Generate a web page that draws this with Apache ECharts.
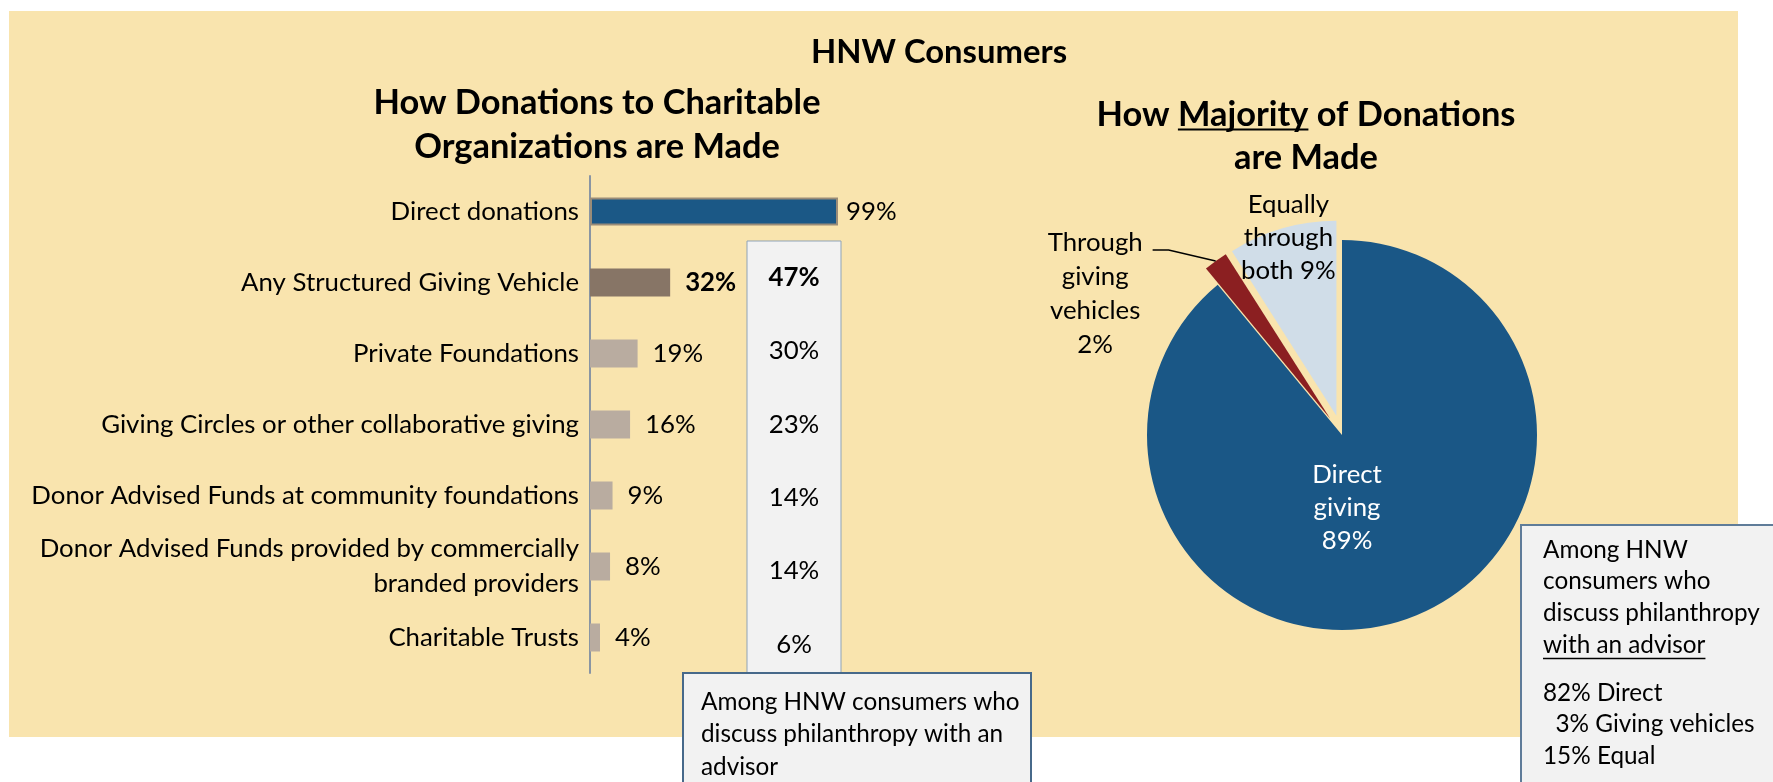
<!DOCTYPE html>
<html>
<head>
<meta charset="utf-8">
<title>HNW Consumers</title>
<script src="https://cdn.jsdelivr.net/npm/echarts@6/dist/echarts.min.js"></script>
<style>
html, body { margin: 0; padding: 0; background: #fff; }
#chart { width: 1773px; height: 782px; }
</style>
</head>
<body>
<div id="chart"></div>
<script>
// ---- data ----
const categories = [
  'Direct donations',
  'Any Structured Giving Vehicle',
  'Private Foundations',
  'Giving Circles or other collaborative giving',
  'Donor Advised Funds at community foundations',
  'Donor Advised Funds provided by commercially\nbranded providers',
  'Charitable Trusts'
];
const allHnw = [99, 32, 19, 16, 9, 8, 4];
const withAdvisor = [null, 47, 30, 23, 14, 14, 6]; // no advisor figure for direct donations
const summaryRow = 1; // "any vehicle" row is shown bold

const pieNames = ['Direct\ngiving', 'Through\ngiving\nvehicles', 'Equally\nthrough\nboth'];
const pieValues = [89, 2, 9];

const advisorPieNames = ['Direct', 'Giving vehicles', 'Equal'];
const advisorPieValues = [82, 3, 15];

// ---- fonts: Calibri is not installed, so size Lato to the reference text widths ----
const FONT = 'Lato';
const ctx = document.createElement('canvas').getContext('2d');
function measure(text, size, weight) {
  ctx.font = (weight || 'normal') + ' ' + size + 'px ' + FONT;
  return ctx.measureText(text).width;
}
function fit(text, width, weight) {
  return Math.round(1000 * width / measure(text, 100, weight)) / 10;
}
const fsLabel = fit('Giving Circles or other collaborative giving', 477);
const fsNote = fit('Among HNW consumers who', 318);
const fsTitle = fit('How Donations to Charitable', 447, 'bold');
const fsHead = fit('HNW Consumers', 256, 'bold');

// ---- pie geometry ----
const cx = 1342, cy = 435, pieR = 195, explode = 20;
const pieColors = ['#1A5786', '#8B1F21', '#D0DDE8'];
const pieTotal = pieValues.reduce((a, b) => a + b, 0);

// outer edge midpoint of a slice (exploded slices included)
function sliceEdge(idx) {
  let before = 0;
  for (let i = 0; i < idx; i++) before += pieValues[i];
  const a = (before + pieValues[idx] / 2) / pieTotal * Math.PI * 2;
  const rr = pieR + (idx > 0 ? explode : 0);
  return [cx + rr * Math.sin(a), cy - rr * Math.cos(a)];
}
const leadA = sliceEdge(1);
const leadB = [leadA[0] - 47, leadA[1] - 11];
const leadC = [leadB[0] - 16, leadB[1]];

const barColors = allHnw.map((v, i) => i === 0 ? '#1B5886' : i === summaryRow ? '#877566' : '#B9ACA0');

// underline positions
const titleLine = 'How Majority of Donations';
const titleCx = 1306;
const ulStart = titleCx - measure(titleLine, fsTitle, 'bold') / 2 + measure('How ', fsTitle, 'bold');
const ulEnd = ulStart + measure('Majority', fsTitle, 'bold');
const noteX = 1543;
const noteUlEnd = noteX + measure('with an advisor', fsNote);

const advisorLines = advisorPieValues.map((v, i) =>
  (v < 10 ? '  ' : '') + v + '% ' + advisorPieNames[i]).join('\n');

// pie label nudges (dx, dy) from the default inside spot
const pieLabelShift = [[-29, -22], [-176, -44], [-20, -82]];

const chart = echarts.init(document.getElementById('chart'));

chart.setOption({
  animation: false,
  backgroundColor: '#ffffff',
  textStyle: { fontFamily: FONT, color: '#000' },
  grid: [
    { left: 590, top: 176, width: 250.5, height: 497 },
    { left: 747, top: 241, width: 94, height: 440, show: true,
      backgroundColor: '#F2F2F2', borderColor: '#8FA3B7', borderWidth: 1 }
  ],
  xAxis: [
    { gridIndex: 0, type: 'value', min: 0, max: 100, show: false },
    { gridIndex: 1, type: 'value', min: 0, max: 1, show: false }
  ],
  yAxis: [
    {
      gridIndex: 0, type: 'category', inverse: true,
      data: categories.map(c => c.indexOf('\n') > -1
        ? { value: c, textStyle: { padding: [16, 0, 0, 0] } } : c),
      axisLine: { show: true, lineStyle: { color: '#8A95A3', width: 2 } },
      axisTick: { show: false },
      axisLabel: { color: '#000', fontSize: fsLabel, fontFamily: FONT, margin: 11, lineHeight: 35 }
    },
    { gridIndex: 1, type: 'category', data: categories.slice(1), inverse: true, show: false }
  ],
  series: [
    {
      type: 'bar', xAxisIndex: 0, yAxisIndex: 0, barWidth: 28, silent: true,
      data: allHnw.map((v, i) => ({
        value: v,
        itemStyle: { color: barColors[i], borderColor: i === 0 ? '#9A8C78' : barColors[i], borderWidth: i === 0 ? 2 : 0 },
        label: { distance: i === 0 ? 8 : 15, fontWeight: i === summaryRow ? 'bold' : 'normal' }
      })),
      label: { show: true, position: 'right', formatter: '{c}%', color: '#000', fontSize: fsLabel, fontFamily: FONT }
    },
    {
      type: 'scatter', xAxisIndex: 1, yAxisIndex: 1, symbolSize: 0, silent: true,
      itemStyle: { opacity: 1 },
      data: withAdvisor.slice(1).map((v, i) => ({
        value: [0.5, i, v],
        label: { fontWeight: i + 1 === summaryRow ? 'bold' : 'normal' }
      })),
      label: { show: true, position: 'inside', formatter: p => p.value[2] + '%',
        color: '#000', opacity: 1, fontSize: fsLabel, fontFamily: FONT }
    },
    {
      type: 'pie', center: [cx, cy], radius: pieR, startAngle: 90, clockwise: true,
      selectedMode: 'multiple', selectedOffset: explode, silent: true,
      emphasis: { disabled: true },
      select: { itemStyle: { borderWidth: 0 } },
      data: pieValues.map((v, i) => ({
        name: pieNames[i], value: v, selected: i > 0,
        itemStyle: { color: pieColors[i] },
        label: { color: i === 0 ? '#fff' : '#000', lineHeight: i === 1 ? 34 : 33 }
      })),
      label: {
        show: true, position: 'inside', fontFamily: FONT, fontSize: fsLabel,
        formatter: p => p.name + (p.dataIndex === 2 ? ' ' : '\n') + p.value + '%'
      },
      labelLine: { show: false },
      labelLayout: p => ({ dx: pieLabelShift[p.dataIndex][0], dy: pieLabelShift[p.dataIndex][1] })
    }
  ],
  graphic: [
    { type: 'rect', z: -10, shape: { x: 9, y: 11, width: 1729, height: 726 }, style: { fill: '#F9E4AE' } },
    { type: 'text', x: 939, y: 52, style: { text: 'HNW Consumers', fontFamily: FONT, fontWeight: 'bold',
      fontSize: fsHead, align: 'center', verticalAlign: 'middle', fill: '#000' } },
    { type: 'text', x: 597, y: 125, style: { text: 'How Donations to Charitable\nOrganizations are Made',
      fontFamily: FONT, fontWeight: 'bold', fontSize: fsTitle, lineHeight: 44,
      align: 'center', verticalAlign: 'middle', fill: '#000' } },
    { type: 'text', x: titleCx, y: 136.5, style: { text: titleLine + '\nare Made',
      fontFamily: FONT, fontWeight: 'bold', fontSize: fsTitle, lineHeight: 43,
      align: 'center', verticalAlign: 'middle', fill: '#000' } },
    { type: 'line', shape: { x1: ulStart, y1: 129.5, x2: ulEnd, y2: 129.5 }, style: { stroke: '#000', lineWidth: 2 } },

    // leader from the small slice to its label
    { type: 'polyline', z: 5, shape: { points: [leadA, leadB, leadC] },
      style: { stroke: '#000', lineWidth: 1.5, fill: null } },

    // note under the advisor column
    { type: 'rect', z: 10, shape: { x: 683, y: 673, width: 348, height: 130 },
      style: { fill: '#F2F2F2', stroke: '#47698A', lineWidth: 2 } },
    { type: 'text', z: 11, x: 701, y: 685.5, style: { text: 'Among HNW consumers who\ndiscuss philanthropy with an\nadvisor',
      fontFamily: FONT, fontSize: fsNote, lineHeight: 32.5, verticalAlign: 'top', fill: '#000' } },

    // note beside the pie
    { type: 'rect', z: 10, shape: { x: 1521, y: 525, width: 270, height: 270 },
      style: { fill: '#F2F2F2', stroke: '#5F7C99', lineWidth: 2 } },
    { type: 'text', z: 11, x: noteX, y: 534, style: { text: 'Among HNW\nconsumers who\ndiscuss philanthropy\nwith an advisor',
      fontFamily: FONT, fontSize: fsNote, lineHeight: 31.7, verticalAlign: 'top', fill: '#000' } },
    { type: 'line', z: 11, shape: { x1: noteX, y1: 658.5, x2: noteUlEnd, y2: 658.5 }, style: { stroke: '#000', lineWidth: 1.5 } },
    { type: 'text', z: 11, x: noteX, y: 677, style: { text: advisorLines,
      fontFamily: FONT, fontSize: fsNote, lineHeight: 31.7, verticalAlign: 'top', fill: '#000' } }
  ]
});
</script>
</body>
</html>
